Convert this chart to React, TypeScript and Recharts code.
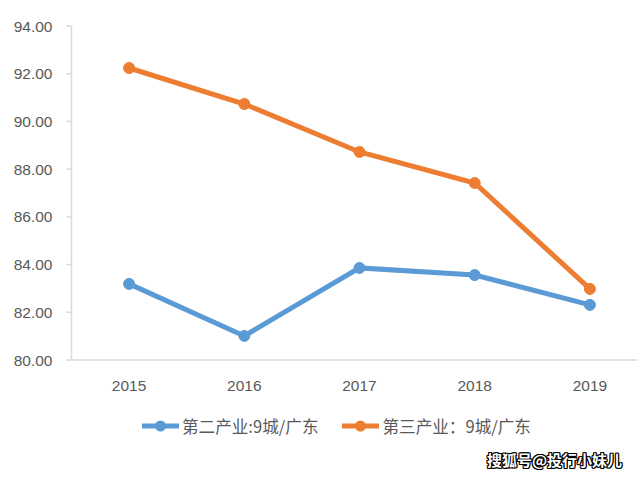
import React from 'react';
import { LineChart, Line, XAxis, YAxis } from 'recharts';

const years = ['2015', '2016', '2017', '2018', '2019'];
const secondary = [83.19, 81.01, 83.86, 83.56, 82.31];
const tertiary = [92.24, 90.73, 88.72, 87.42, 82.98];
const yTicks = [80, 82, 84, 86, 88, 90, 92, 94];
const seriesNames = ['第二产业:9城/广东', '第三产业：9城/广东'];
const watermark = '搜狐号@投行小妹儿';

const BLUE = '#5b9bd5';
const ORANGE = '#ed7d31';
const TEXT = '#595959';
const AXIS = '#d9d9d9';

const data = years.map((y, i) => ({ year: y, s2: secondary[i], s3: tertiary[i] }));

const LegendItem = ({ color, label }: { color: string; label: string }) => (
  <div style={{ display: 'flex', alignItems: 'center', marginRight: 24 }}>
    <svg width={37} height={12} style={{ marginRight: 3 }}>
      <line x1={0} y1={6} x2={37} y2={6} stroke={color} strokeWidth={5} />
      <circle cx={18.5} cy={6} r={5.5} fill={color} />
    </svg>
    <span style={{ color: TEXT, fontSize: 16.6, fontFamily: '"Noto Sans CJK SC", "Liberation Sans", sans-serif' }}>{label}</span>
  </div>
);

export default function App() {
  return (
    <div style={{ position: 'absolute', left: 0, top: 0, width: 640, height: 477, overflow: 'hidden', background: '#fff' }}>
      <LineChart
        width={640}
        height={477}
        data={data}
        margin={{ top: 26, right: 3, bottom: 77, left: 0 }}
      >
        <XAxis
          dataKey="year"
          tickLine={false}
          axisLine={{ stroke: AXIS, strokeWidth: 1.5 }}
          tick={{ fill: TEXT, fontSize: 15.5, fontFamily: '"Liberation Sans", sans-serif' }}
          tickMargin={14}
          height={40}
          padding={{ left: 57.6, right: 47.1 }}
        />
        <YAxis
          domain={[80, 94]}
          ticks={yTicks}
          width={71.5}
          tickFormatter={(v: number) => v.toFixed(2)}
          tick={{ fill: TEXT, fontSize: 15.5, fontFamily: '"Liberation Sans", sans-serif' }}
          tickLine={{ stroke: AXIS, strokeWidth: 1.5 }}
          axisLine={{ stroke: AXIS, strokeWidth: 1.5 }}
          tickSize={5}
          tickMargin={14}
          interval={0}
        />
        <Line
          dataKey="s2"
          name={seriesNames[0]}
          stroke={BLUE}
          strokeWidth={5}
          dot={{ r: 5.5, fill: BLUE, stroke: BLUE, strokeWidth: 1 }}
          isAnimationActive={false}
        />
        <Line
          dataKey="s3"
          name={seriesNames[1]}
          stroke={ORANGE}
          strokeWidth={5}
          dot={{ r: 5.5, fill: ORANGE, stroke: ORANGE, strokeWidth: 1 }}
          isAnimationActive={false}
        />
      </LineChart>
      <div style={{ position: 'absolute', left: 142, top: 414, display: 'flex', alignItems: 'center' }}>
        <LegendItem color={BLUE} label={seriesNames[0]} />
        <LegendItem color={ORANGE} label={seriesNames[1]} />
      </div>
      <div
        style={{
          position: 'absolute',
          left: 487,
          top: 449,
          fontSize: 15,
          fontWeight: 'bold',
          color: '#fff',
          fontFamily: '"Noto Sans CJK SC", sans-serif',
          textShadow: '1px 1px 0 #000, -1px -1px 0 #000, 1px -1px 0 #000, -1px 1px 0 #000, 0 1px 0 #000, 1px 0 0 #000, 0 -1px 0 #000, -1px 0 0 #000',
        }}
      >
        {watermark}
      </div>
    </div>
  );
}
